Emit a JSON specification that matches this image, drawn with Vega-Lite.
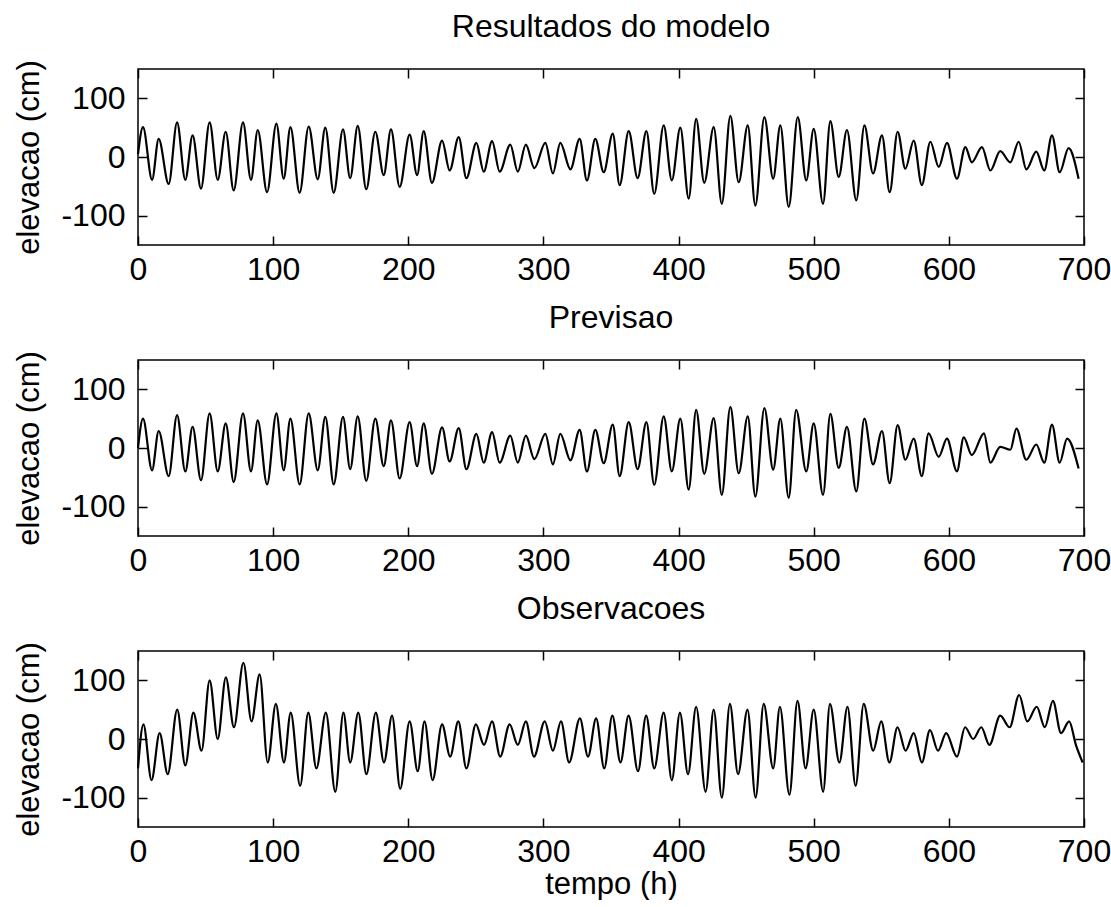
{
  "$schema": "https://vega.github.io/schema/vega-lite/v6.json",
  "padding": {"left": 13, "top": 9, "right": 0, "bottom": 0},
  "background": "white",
  "config": {
    "font": "Liberation Sans",
    "view": {"stroke": "black", "strokeWidth": 1.5},
    "axis": {"labelFont": "Liberation Sans", "labelFontSize": 32, "labelColor": "black", "titleFont": "Liberation Sans", "titleFontSize": 31, "titleFontWeight": "normal", "titleColor": "black", "tickColor": "black", "tickSize": -9, "tickWidth": 1.5, "domain": false, "grid": false},
    "axisX": {"labelPadding": 18},
    "axisY": {"labelPadding": 22},
    "title": {"font": "Liberation Sans", "fontSize": 32, "fontWeight": "normal", "color": "black", "anchor": "middle", "offset": 16}
  },
  "datasets": {
    "modelo": [
      {"t":0,"v":5},{"t":3.7,"v":51},{"t":10.4,"v":-39},{"t":15.3,"v":31},{"t":22.7,"v":-46},{"t":28.9,"v":59},{"t":35,"v":-39},{"t":40.4,"v":37},{"t":46.6,"v":-54},{"t":53,"v":59},{"t":59,"v":-39},{"t":64.9,"v":43},{"t":70.8,"v":-57},{"t":77.7,"v":59},{"t":83.6,"v":-39},{"t":88.6,"v":46},{"t":95.5,"v":-60},{"t":102.4,"v":57},{"t":107.8,"v":-37},{"t":112.8,"v":51},{"t":119.6,"v":-61},{"t":126.3,"v":52},{"t":133,"v":-38},{"t":138.6,"v":50},{"t":144.8,"v":-61},{"t":151.7,"v":47},{"t":157,"v":-36},{"t":162.6,"v":53},{"t":168.9,"v":-55},{"t":175.6,"v":43},{"t":181.8,"v":-31},{"t":187.2,"v":47},{"t":193.6,"v":-51},{"t":201,"v":38},{"t":206.5,"v":-31},{"t":211.4,"v":44},{"t":217.5,"v":-44},{"t":225,"v":28},{"t":230.6,"v":-23},{"t":237.3,"v":34},{"t":243,"v":-36},{"t":250.4,"v":24},{"t":255.8,"v":-25},{"t":262,"v":27},{"t":267.6,"v":-25},{"t":275.5,"v":21},{"t":281,"v":-25},{"t":287,"v":21},{"t":293.3,"v":-19},{"t":301.4,"v":24},{"t":307,"v":-28},{"t":312.5,"v":24},{"t":320,"v":-21},{"t":326.8,"v":31},{"t":332.2,"v":-40},{"t":338.4,"v":31},{"t":344.6,"v":-26},{"t":351.3,"v":40},{"t":356.4,"v":-48},{"t":363.1,"v":44},{"t":369.7,"v":-36},{"t":376.2,"v":44},{"t":382,"v":-63},{"t":389,"v":54},{"t":395,"v":-40},{"t":401.3,"v":50},{"t":407.5,"v":-71},{"t":413,"v":65},{"t":419,"v":-44},{"t":426,"v":51},{"t":432,"v":-80},{"t":438.3,"v":70},{"t":444.5,"v":-43},{"t":451.2,"v":54},{"t":456.8,"v":-83},{"t":463.5,"v":68},{"t":470,"v":-37},{"t":475.3,"v":54},{"t":481.5,"v":-85},{"t":488.2,"v":68},{"t":494.5,"v":-40},{"t":500,"v":48},{"t":506.9,"v":-80},{"t":512.3,"v":61},{"t":518.5,"v":-34},{"t":524.6,"v":46},{"t":531.5,"v":-74},{"t":537.5,"v":54},{"t":543.9,"v":-28},{"t":550.5,"v":37},{"t":556.2,"v":-60},{"t":562.1,"v":43},{"t":567.8,"v":-20},{"t":574,"v":28},{"t":580,"v":-48},{"t":586.3,"v":26},{"t":592.5,"v":-17},{"t":598.6,"v":24},{"t":606,"v":-37},{"t":612.2,"v":17},{"t":617,"v":-9},{"t":624.5,"v":17},{"t":630.7,"v":-23},{"t":638,"v":10},{"t":645.5,"v":-9},{"t":651.7,"v":26},{"t":657.3,"v":-21},{"t":664.7,"v":9},{"t":670.6,"v":-23},{"t":676.3,"v":37},{"t":682,"v":-26},{"t":688.6,"v":15},{"t":696,"v":-37}
    ],
    "previsao": [
      {"t":0,"v":0},{"t":3.7,"v":50},{"t":10.4,"v":-38},{"t":15.3,"v":29},{"t":22.7,"v":-48},{"t":28.9,"v":56},{"t":35,"v":-40},{"t":40.4,"v":36},{"t":46.6,"v":-55},{"t":53,"v":59},{"t":59,"v":-40},{"t":64.9,"v":42},{"t":70.8,"v":-58},{"t":77.7,"v":59},{"t":83.6,"v":-40},{"t":88.6,"v":47},{"t":95.5,"v":-62},{"t":102.4,"v":59},{"t":107.8,"v":-38},{"t":112.8,"v":50},{"t":119.6,"v":-62},{"t":126.3,"v":59},{"t":133,"v":-38},{"t":138.6,"v":53},{"t":144.8,"v":-62},{"t":151.7,"v":53},{"t":157,"v":-36},{"t":162.6,"v":54},{"t":168.9,"v":-56},{"t":175.6,"v":50},{"t":181.8,"v":-31},{"t":187.2,"v":47},{"t":193.6,"v":-52},{"t":201,"v":44},{"t":206.5,"v":-31},{"t":211.4,"v":42},{"t":217.5,"v":-44},{"t":225,"v":35},{"t":230.6,"v":-23},{"t":237.3,"v":34},{"t":243,"v":-36},{"t":250.4,"v":24},{"t":255.8,"v":-25},{"t":262,"v":27},{"t":267.6,"v":-25},{"t":275.5,"v":21},{"t":281,"v":-25},{"t":287,"v":21},{"t":293.3,"v":-19},{"t":301.4,"v":24},{"t":307,"v":-28},{"t":312.5,"v":24},{"t":320,"v":-21},{"t":326.8,"v":31},{"t":332.2,"v":-40},{"t":338.4,"v":31},{"t":344.6,"v":-26},{"t":351.3,"v":40},{"t":356.4,"v":-48},{"t":363.1,"v":44},{"t":369.7,"v":-36},{"t":376.2,"v":44},{"t":382,"v":-63},{"t":389,"v":54},{"t":395,"v":-40},{"t":401.3,"v":50},{"t":407.5,"v":-71},{"t":413,"v":65},{"t":419,"v":-44},{"t":426,"v":51},{"t":432,"v":-80},{"t":438.3,"v":70},{"t":444.5,"v":-43},{"t":451.2,"v":54},{"t":456.8,"v":-83},{"t":463.5,"v":68},{"t":470,"v":-37},{"t":475.3,"v":50},{"t":481.5,"v":-85},{"t":487,"v":65},{"t":494.5,"v":-40},{"t":500,"v":42},{"t":506.9,"v":-80},{"t":512.3,"v":58},{"t":518.5,"v":-34},{"t":524.6,"v":36},{"t":531.5,"v":-74},{"t":537.5,"v":50},{"t":543.9,"v":-28},{"t":550.5,"v":29},{"t":556.2,"v":-60},{"t":562.1,"v":39},{"t":567.8,"v":-20},{"t":574,"v":16},{"t":580,"v":-48},{"t":585,"v":25},{"t":592.5,"v":-15},{"t":598.6,"v":16},{"t":606,"v":-40},{"t":611,"v":18},{"t":617,"v":-12},{"t":626,"v":25},{"t":630.7,"v":-25},{"t":638,"v":2},{"t":645.5,"v":-3},{"t":650,"v":33},{"t":657.3,"v":-20},{"t":664.7,"v":6},{"t":670.6,"v":-25},{"t":676.3,"v":40},{"t":682,"v":-25},{"t":687.5,"v":16},{"t":696,"v":-35}
    ],
    "obs": [
      {"t":0,"v":-50},{"t":4,"v":25},{"t":10,"v":-70},{"t":16,"v":10},{"t":22,"v":-60},{"t":29,"v":50},{"t":35,"v":-45},{"t":41,"v":45},{"t":47,"v":-20},{"t":53,"v":100},{"t":59,"v":0},{"t":65,"v":105},{"t":71,"v":20},{"t":78,"v":130},{"t":84,"v":30},{"t":90,"v":110},{"t":96,"v":-40},{"t":102,"v":60},{"t":108,"v":-40},{"t":113,"v":45},{"t":120,"v":-80},{"t":126,"v":45},{"t":132,"v":-50},{"t":139,"v":45},{"t":146,"v":-90},{"t":152,"v":45},{"t":157,"v":-40},{"t":163,"v":45},{"t":169,"v":-60},{"t":176,"v":45},{"t":182,"v":-40},{"t":188,"v":40},{"t":194,"v":-85},{"t":201,"v":30},{"t":207,"v":-55},{"t":212,"v":30},{"t":218,"v":-70},{"t":225,"v":25},{"t":231,"v":-30},{"t":237,"v":30},{"t":243,"v":-50},{"t":250,"v":25},{"t":256,"v":-10},{"t":262,"v":30},{"t":268,"v":-30},{"t":275,"v":25},{"t":281,"v":-10},{"t":287,"v":30},{"t":293,"v":-30},{"t":301,"v":30},{"t":307,"v":-20},{"t":313,"v":30},{"t":319,"v":-40},{"t":327,"v":35},{"t":333,"v":-30},{"t":339,"v":35},{"t":345,"v":-50},{"t":351,"v":40},{"t":357,"v":-40},{"t":363,"v":40},{"t":370,"v":-55},{"t":376,"v":40},{"t":382,"v":-50},{"t":389,"v":45},{"t":395,"v":-70},{"t":401,"v":45},{"t":407,"v":-60},{"t":413,"v":55},{"t":420,"v":-90},{"t":426,"v":50},{"t":432,"v":-100},{"t":438,"v":60},{"t":444,"v":-60},{"t":451,"v":50},{"t":457,"v":-100},{"t":463,"v":60},{"t":470,"v":-50},{"t":475,"v":55},{"t":482,"v":-95},{"t":488,"v":65},{"t":494,"v":-50},{"t":500,"v":50},{"t":507,"v":-90},{"t":512,"v":60},{"t":519,"v":-40},{"t":525,"v":55},{"t":531,"v":-80},{"t":537,"v":60},{"t":544,"v":-20},{"t":550,"v":30},{"t":556,"v":-40},{"t":562,"v":20},{"t":568,"v":-20},{"t":574,"v":10},{"t":580,"v":-40},{"t":586,"v":15},{"t":592,"v":-20},{"t":598,"v":10},{"t":606,"v":-30},{"t":612,"v":20},{"t":618,"v":0},{"t":624,"v":20},{"t":630,"v":-10},{"t":638,"v":40},{"t":645,"v":20},{"t":652,"v":75},{"t":658,"v":30},{"t":665,"v":55},{"t":671,"v":20},{"t":677,"v":65},{"t":683,"v":10},{"t":689,"v":30},{"t":694,"v":-10},{"t":699,"v":-40}
    ]
  },
  "spacing": 14,
  "vconcat": [
    {
      "width": 946, "height": 176,
      "title": {"text": "Resultados do modelo"},
      "data": {"name": "modelo"},
      "layer": [
        {"mark": {"type": "line", "color": "black", "strokeWidth": 2.2, "interpolate": "monotone"},
         "encoding": {
           "x": {"field": "t", "type": "quantitative", "scale": {"domain": [0, 700], "nice": false}, "axis": {"values": [0,100,200,300,400,500,600,700], "labelFlush": false, "title": null}},
           "y": {"field": "v", "type": "quantitative", "scale": {"domain": [-150, 150], "nice": false}, "axis": {"values": [-100,0,100], "title": "elevacao (cm)", "labelExpr": "replace(datum.label, '−', '-')", "titlePadding": 15}}
         }},
        {"mark": {"type": "line", "opacity": 0},
         "encoding": {
           "x": {"field": "t", "type": "quantitative", "axis": {"orient": "top", "values": [0,100,200,300,400,500,600,700], "labels": false, "title": null}},
           "y": {"field": "v", "type": "quantitative", "axis": {"orient": "right", "values": [-100,0,100], "labels": false, "title": null}}
         }}
      ],
      "resolve": {"axis": {"x": "independent", "y": "independent"}}
    },
    {
      "width": 946, "height": 176,
      "title": {"text": "Previsao"},
      "data": {"name": "previsao"},
      "layer": [
        {"mark": {"type": "line", "color": "black", "strokeWidth": 2.2, "interpolate": "monotone"},
         "encoding": {
           "x": {"field": "t", "type": "quantitative", "scale": {"domain": [0, 700], "nice": false}, "axis": {"values": [0,100,200,300,400,500,600,700], "labelFlush": false, "title": null}},
           "y": {"field": "v", "type": "quantitative", "scale": {"domain": [-150, 150], "nice": false}, "axis": {"values": [-100,0,100], "title": "elevacao (cm)", "labelExpr": "replace(datum.label, '−', '-')", "titlePadding": 15}}
         }},
        {"mark": {"type": "line", "opacity": 0},
         "encoding": {
           "x": {"field": "t", "type": "quantitative", "axis": {"orient": "top", "values": [0,100,200,300,400,500,600,700], "labels": false, "title": null}},
           "y": {"field": "v", "type": "quantitative", "axis": {"orient": "right", "values": [-100,0,100], "labels": false, "title": null}}
         }}
      ],
      "resolve": {"axis": {"x": "independent", "y": "independent"}}
    },
    {
      "width": 946, "height": 176,
      "title": {"text": "Observacoes"},
      "data": {"name": "obs"},
      "layer": [
        {"mark": {"type": "line", "color": "black", "strokeWidth": 2.2, "interpolate": "monotone"},
         "encoding": {
           "x": {"field": "t", "type": "quantitative", "scale": {"domain": [0, 700], "nice": false}, "axis": {"values": [0,100,200,300,400,500,600,700], "labelFlush": false, "title": "tempo (h)", "titlePadding": 2}},
           "y": {"field": "v", "type": "quantitative", "scale": {"domain": [-150, 150], "nice": false}, "axis": {"values": [-100,0,100], "title": "elevacao (cm)", "labelExpr": "replace(datum.label, '−', '-')", "titlePadding": 15}}
         }},
        {"mark": {"type": "line", "opacity": 0},
         "encoding": {
           "x": {"field": "t", "type": "quantitative", "axis": {"orient": "top", "values": [0,100,200,300,400,500,600,700], "labels": false, "title": null}},
           "y": {"field": "v", "type": "quantitative", "axis": {"orient": "right", "values": [-100,0,100], "labels": false, "title": null}}
         }}
      ],
      "resolve": {"axis": {"x": "independent", "y": "independent"}}
    }
  ]
}
